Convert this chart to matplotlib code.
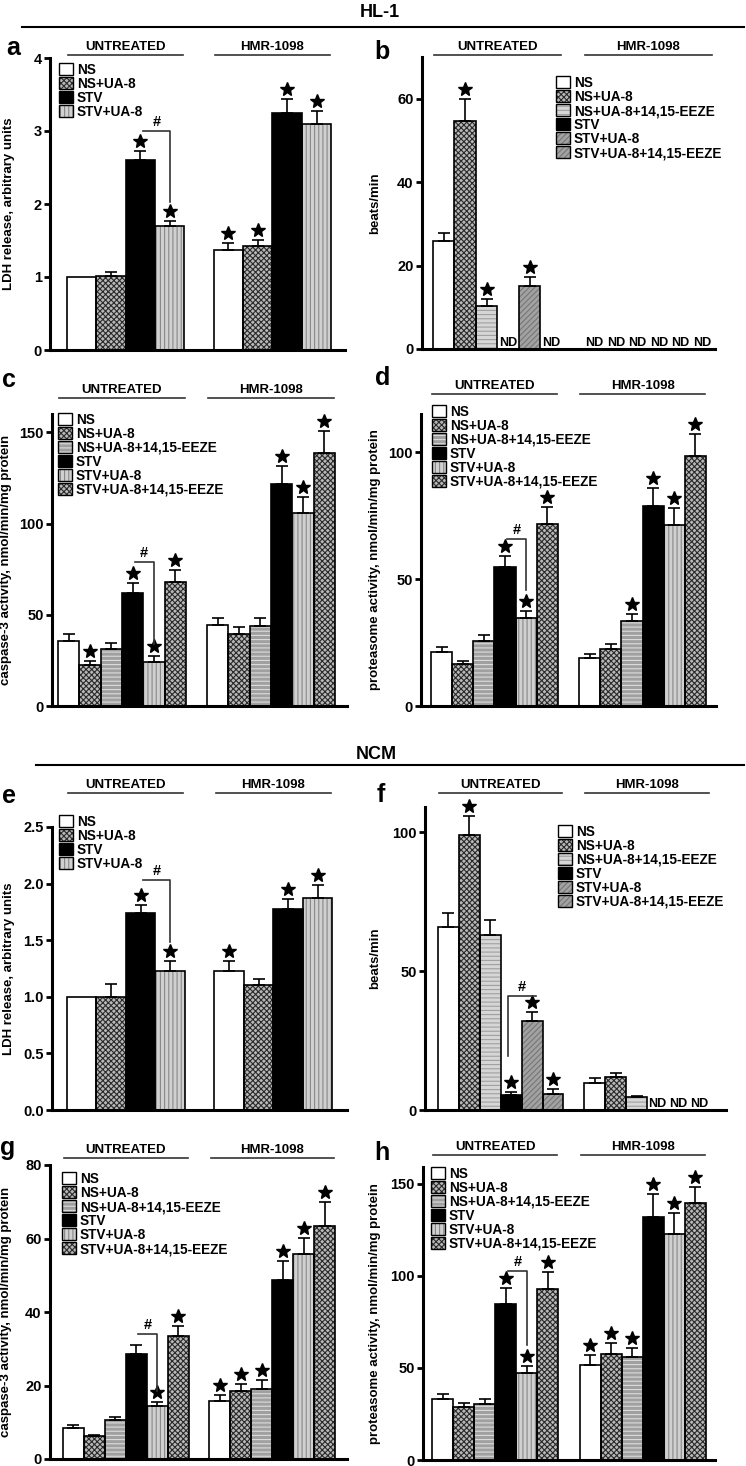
import numpy as np
import matplotlib
matplotlib.use("Agg")
import matplotlib.pyplot as plt
from matplotlib.lines import Line2D
from matplotlib.patches import Patch
from matplotlib.legend_handler import HandlerTuple
from matplotlib.transforms import blended_transform_factory

plt.rcParams["font.family"] = ["Liberation Sans", "DejaVu Sans"]
plt.rcParams["font.weight"] = "bold"
plt.rcParams["hatch.linewidth"] = 0.8

W, H = 746, 1466
ND = np.nan

# ---------------- data ----------------
groups = ["UNTREATED", "HMR-1098"]
series4 = ["NS", "NS+UA-8", "STV", "STV+UA-8"]
series6 = ["NS", "NS+UA-8", "NS+UA-8+14,15-EEZE", "STV", "STV+UA-8", "STV+UA-8+14,15-EEZE"]

# HL-1
a_vals = [1.00, 1.02, 2.60, 1.70, 1.37, 1.43, 3.24, 3.10]
a_errs = [0.00, 0.05, 0.12, 0.07, 0.09, 0.08, 0.20, 0.18]
a_star = [0, 0, 1, 1, 1, 1, 1, 1]

b_vals = [25.8, 54.6, 10.2, ND, 15.2, ND, ND, ND, ND, ND, ND, ND]
b_errs = [2.0, 5.4, 1.8, ND, 2.0, ND, ND, ND, ND, ND, ND, ND]
b_star = [0, 1, 1, 0, 1, 0, 0, 0, 0, 0, 0, 0]

c_vals = [35.7, 22.4, 31.0, 62.0, 24.0, 67.8, 44.3, 39.3, 43.9, 121.7, 105.6, 138.4]
c_errs = [3.5, 2.2, 3.6, 5.6, 3.5, 6.9, 4.0, 4.0, 4.4, 9.6, 9.1, 12.4]
c_star = [0, 1, 0, 1, 1, 1, 0, 0, 0, 1, 1, 1]

d_vals = [21.1, 16.5, 25.7, 54.9, 34.5, 71.7, 18.8, 22.3, 33.6, 78.9, 71.3, 98.4]
d_errs = [2.0, 1.3, 2.3, 4.3, 3.0, 6.6, 1.5, 2.1, 2.5, 6.8, 6.5, 8.6]
d_star = [0, 0, 0, 1, 1, 1, 0, 0, 1, 1, 1, 1]

# NCM
e_vals = [1.00, 1.00, 1.74, 1.23, 1.23, 1.10, 1.78, 1.87]
e_errs = [0.00, 0.11, 0.07, 0.09, 0.09, 0.06, 0.08, 0.12]
e_star = [0, 0, 1, 1, 1, 0, 1, 1]

f_vals = [65.8, 99.0, 62.9, 5.4, 32.0, 5.8, 9.8, 12.0, 4.6, ND, ND, ND]
f_errs = [5.1, 6.6, 5.3, 1.2, 3.1, 1.6, 1.8, 1.4, 0.4, ND, ND, ND]
f_star = [0, 1, 0, 1, 1, 1, 0, 0, 0, 0, 0, 0]

g_vals = [8.45, 6.2, 10.5, 28.6, 14.4, 33.6, 15.7, 18.6, 19.1, 48.7, 55.7, 63.5]
g_errs = [0.9, 0.4, 0.9, 2.3, 1.1, 2.6, 1.6, 1.9, 2.3, 5.2, 4.4, 6.3]
g_star = [0, 0, 0, 0, 1, 1, 1, 1, 1, 1, 1, 1]

h_vals = [33.0, 28.5, 30.3, 84.4, 47.2, 92.9, 51.4, 57.7, 55.7, 132.1, 122.5, 139.4]
h_errs = [2.9, 2.4, 2.9, 9.1, 3.6, 9.1, 5.8, 5.8, 5.1, 12.5, 11.4, 8.9]
h_star = [0, 0, 0, 1, 1, 1, 1, 1, 1, 1, 1, 1]

# "#" brackets: (top, bottom) heights
a_hash = (3.0, 2.03)
c_hash = (78.9, 34.2)
d_hash = (65.6, 45.7)
e_hash = (2.03, 1.48)
f_hash = (41.0, 19.4)
g_hash = (33.9, 18.5)
h_hash = (102.5, 62.6)

# ---------------- styles ----------------
STYLES = {
    "white": ("white", None, None),
    "check": ("#b8b8b8", "xxxxxx", "#2a2a2a"),
    "black": ("black", None, None),
    "vstripe": ("#d0d0d0", "||||", "#888888"),
    "hstripe": ("#a0a0a0", "----", "#dcdcdc"),
    "hlight": ("#d6d6d6", "----", "#a0a0a0"),
    "diag": ("#a2a2a2", "//////", "#767676"),
}
styles4 = ["white", "check", "black", "vstripe"]
styles6 = ["white", "check", "hstripe", "black", "vstripe", "check"]
styles6b = ["white", "check", "hlight", "black", "diag", "diag"]

fig = plt.figure(figsize=(W / 100, H / 100), dpi=100)


def fx(px):
    return px / W


def fy(py):
    return 1 - py / H


def panel(rect, vals, errs, stars, names, styles, ylim, yticks, fmt, xlim,
          ylabel, ylabel_x, legend_xy, line_y, letter, letter_xy,
          hash_y=None, hash_left=False):
    l, r, t, b = rect
    ax = fig.add_axes([fx(l), fy(b), (r - l) / W, (b - t) / H])
    n = len(names)
    x = np.r_[np.arange(n), np.arange(n) + n + 1]
    vals = np.asarray(vals, float)
    errs = np.asarray(errs, float)
    sty = list(styles) * 2
    ppu = (b - t) / (ylim[1] - ylim[0])

    for xi, v, s in zip(x, vals, sty):
        if np.isnan(v):
            ax.text(xi, 0, "ND", ha="center", va="bottom", fontsize=9)
            continue
        face, hatch, hc = STYLES[s]
        ax.bar(xi, v, width=1.0, color=face, hatch=hatch,
               edgecolor=hc if hatch else face, linewidth=0, zorder=2)
        ax.bar(xi, v, width=1.0, fill=False, edgecolor="black", linewidth=1.2, zorder=2.1)

    ok = ~np.isnan(vals) & (np.nan_to_num(errs) > 0)
    ax.errorbar(x[ok], vals[ok], yerr=[np.zeros(ok.sum()), errs[ok]], fmt="none",
                ecolor="black", elinewidth=1.2, capsize=4, capthick=1.2, zorder=3)

    st = np.asarray(stars, bool)
    ys = vals[st] + np.nan_to_num(errs[st]) + 10 / ppu
    ax.plot(x[st], ys, linestyle="none", marker="*", ms=10, color="black",
            clip_on=False, zorder=4)

    if hash_y is not None:
        xs = x[names.index("STV")]
        xu = x[names.index("STV+UA-8")]
        top, bot = hash_y
        if hash_left:
            hx = [xu + 0.2, xs - 0.15, xs - 0.15]
        else:
            hx = [xs + 0.1, xu, xu]
        hy = [top, top, bot]
        ax.plot(hx, hy, color="#333333", lw=1.2, zorder=4)
        ax.text((hx[0] + hx[1]) / 2, top + 2 / ppu, "#", ha="center", va="bottom",
                fontsize=10.5)

    ax.set_xlim(*xlim)
    ax.set_ylim(*ylim)
    ax.set_yticks(yticks)
    ax.set_yticklabels([fmt.format(v) for v in yticks])
    ax.set_xticks([])
    for sp in ("top", "right"):
        ax.spines[sp].set_visible(False)
    for sp in ("left", "bottom"):
        ax.spines[sp].set_linewidth(2.2)
    ax.tick_params(axis="y", length=4, width=2, labelsize=10.5, pad=2)
    ax.set_ylabel(ylabel, fontsize=9.5, fontweight="bold")
    ax.yaxis.set_label_coords(ylabel_x, 0.5)

    # group headers
    tr = blended_transform_factory(ax.transData, fig.transFigure)
    for gi, gname in enumerate(groups):
        g0, g1 = x[gi * n], x[gi * n + n - 1]
        ax.plot([g0 - 0.45, g1 + 0.45], [fy(line_y)] * 2, transform=tr, color="#333333",
                lw=1.2, clip_on=False)
        ax.text((g0 + g1) / 2, fy(line_y - 2), gname, transform=tr, ha="center",
                va="bottom", fontsize=9.5)

    handles = []
    for s in styles:
        face, hatch, hc = STYLES[s]
        handles.append((Patch(facecolor=face, hatch=hatch, edgecolor=hc if hatch else face,
                              linewidth=0),
                        Patch(fill=False, edgecolor="black", linewidth=1.0)))
    ax.legend(handles, names, handler_map={tuple: HandlerTuple(ndivide=1)},
              loc="upper left", bbox_to_anchor=(fx(legend_xy[0]), fy(legend_xy[1])),
              bbox_transform=fig.transFigure, frameon=False, borderpad=0,
              borderaxespad=0, handlelength=1.0, handleheight=1.0, handletextpad=0.3,
              labelspacing=0.0, prop={"size": 9.8, "weight": "bold"})

    fig.text(fx(letter_xy[0]), fy(letter_xy[1]), letter, fontsize=18,
             fontweight="bold", ha="left", va="baseline")
    return ax


panel((50, 345, 58, 350), a_vals, a_errs, a_star, series4, styles4,
      (0, 4), [0, 1, 2, 3, 4], "{:.0f}", (-1.08, 8.97),
      "LDH release, arbitrary units", -0.12, (59, 63), 55, "a", (6, 55), a_hash)

panel((422, 715, 57, 349), b_vals, b_errs, b_star, series6, styles6b,
      (0, 70), [0, 20, 40, 60], "{:.0f}", (-1.0, 12.6),
      "beats/min", -0.14, (556, 76), 55, "b", (374, 59))

panel((52, 347, 414, 706), c_vals, c_errs, c_star, series6, styles6,
      (0, 160), [0, 50, 100, 150], "{:.0f}", (-0.78, 13.06),
      "caspase-3 activity, nmol/min/mg protein", -0.136, (58, 413), 398, "c", (2, 387),
      c_hash)

panel((421, 716, 414, 706), d_vals, d_errs, d_star, series6, styles6,
      (0, 115), [0, 50, 100], "{:.0f}", (-0.97, 12.97),
      "proteasome activity, nmol/min/mg protein", -0.136, (432, 405), 394, "d", (375, 385),
      d_hash)

panel((52, 347, 827, 1110), e_vals, e_errs, e_star, series4, styles4,
      (0, 2.5), [0.0, 0.5, 1.0, 1.5, 2.0, 2.5], "{:.1f}", (-1.0, 9.0),
      "LDH release, arbitrary units", -0.125, (59, 815), 793, "e", (2, 803), e_hash)

panel((425, 726, 807, 1110), f_vals, f_errs, f_star, series6, styles6b,
      (0, 109), [0, 50, 100], "{:.0f}", (-1.12, 13.27),
      "beats/min", -0.146, (558, 825), 793, "f", (377, 802), f_hash, hash_left=True)

panel((50, 347, 1165, 1459), g_vals, g_errs, g_star, series6, styles6,
      (0, 80), [0, 20, 40, 60, 80], "{:.0f}", (-1.12, 13.07),
      "caspase-3 activity, nmol/min/mg protein", -0.128, (62, 1172), 1158, "g", (0, 1155),
      g_hash)

panel((423, 715, 1167, 1460), h_vals, h_errs, h_star, series6, styles6,
      (0, 159), [0, 50, 100, 150], "{:.0f}", (-0.93, 12.93),
      "proteasome activity, nmol/min/mg protein", -0.144, (431, 1167), 1155, "h", (374, 1160),
      h_hash)

# section headers
fig.text(fx(380), fy(17), "HL-1", ha="center", va="baseline", fontsize=13, fontweight="bold")
fig.add_artist(Line2D([fx(22), fx(744)], [fy(27)] * 2, transform=fig.transFigure,
                      color="black", lw=1.5))
fig.text(fx(376), fy(759), "NCM", ha="center", va="baseline", fontsize=13, fontweight="bold")
fig.add_artist(Line2D([fx(36), fx(744)], [fy(765)] * 2, transform=fig.transFigure,
                      color="black", lw=1.5))

fig.savefig("out.png", dpi=100)
